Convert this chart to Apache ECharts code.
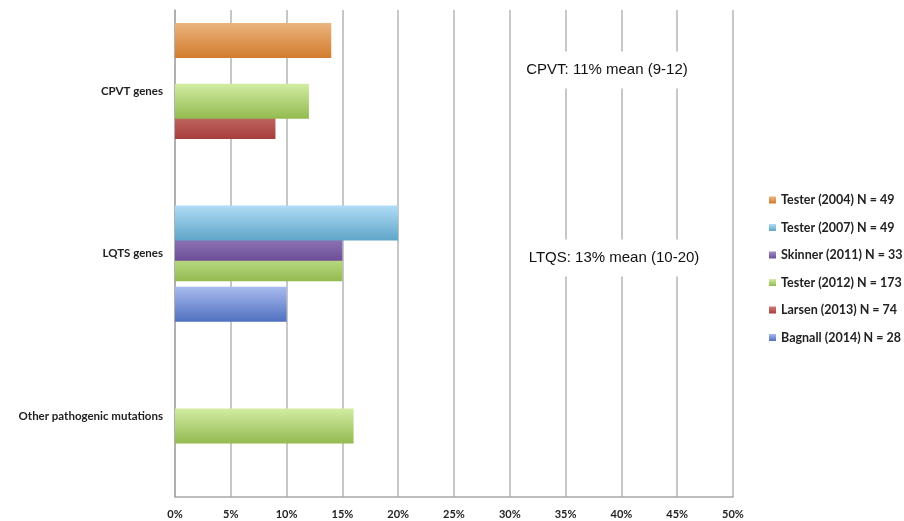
<!DOCTYPE html>
<html>
<head>
<meta charset="utf-8">
<script src="https://cdn.jsdelivr.net/npm/echarts@6/dist/echarts.min.js"></script>
<style>
  html, body { margin: 0; padding: 0; background: #fff; }
  #main { width: 904px; height: 521px; }
</style>
</head>
<body>
<div id="main"></div>
<script>
// categories, bottom to top (category axis runs upward)
var categories = ['Other pathogenic mutations', 'LQTS genes', 'CPVT genes'];
var xTicks = [0, 5, 10, 15, 20, 25, 30, 35, 40, 45, 50];

var seriesNames = [
  'Tester (2004) N = 49',
  'Tester (2007) N = 49',
  'Skinner (2011) N = 33',
  'Tester (2012) N = 173',
  'Larsen (2013) N = 74',
  'Bagnall (2014) N = 28'
];
// values in %, per category [Other, LQTS, CPVT]
var tester2004 = [null, null, 14];
var tester2007 = [null, 20, null];
var skinner2011 = [null, 15, null];
var tester2012 = [16, 15, 12];
var larsen2013 = [null, null, 9];
var bagnall2014 = [null, 10, null];
var seriesValues = [tester2004, tester2007, skinner2011, tester2012, larsen2013, bagnall2014];

var annotations = ['CPVT: 11% mean (9-12)', 'LTQS: 13% mean (10-20)'];

// [flat, top, bottom] colours
var palette = [
  ['#dc8d45', '#ebb47e', '#d27c2c'],
  ['#86c4e4', '#b0dcf6', '#5fa5c8'],
  ['#8a70b3', '#a08bc6', '#6c4e98'],
  ['#a8cd6a', '#d2eca2', '#93ba50'],
  ['#bd5c58', '#cf7d79', '#a63e3b'],
  ['#7b90d8', '#a9bbef', '#5070bf']
];

var myChart = echarts.init(document.getElementById('main'));

var series = seriesNames.map(function (name, i) {
  return {
    name: name,
    type: 'bar',
    data: seriesValues[i],
    barWidth: 35,
    barGap: '-42%',
    z: 10 - i, // upper bars drawn over the lower ones, as in the original
    itemStyle: {
      color: new echarts.graphic.LinearGradient(0, 0, 0, 1, [
        { offset: 0, color: palette[i][1] },
        { offset: 1, color: palette[i][2] }
      ])
    }
  };
});

var option = {
  backgroundColor: '#fff',
  animation: false,
  color: palette.map(function (p) { return p[0]; }),
  grid: { left: 175, right: 171, top: 10, bottom: 24 },
  legend: {
    orient: 'vertical',
    left: 764,
    top: 188,
    itemWidth: 7,
    itemHeight: 7,
    itemGap: 13.5,
    icon: 'rect',
    data: seriesNames,
    textStyle: { fontFamily: 'Lato', fontSize: 12.5, fontWeight: 'bold', color: '#222', lineHeight: 14 }
  },
  xAxis: {
    type: 'value',
    min: 0,
    max: 50,
    interval: 5,
    axisLine: { show: true, lineStyle: { color: '#a8a8a8', width: 1.5 } },
    axisTick: { show: false },
    splitLine: { show: true, lineStyle: { color: '#b4b4b4', width: 1.5 } },
    axisLabel: {
      margin: 12,
      fontFamily: 'Lato',
      fontSize: 11,
      fontWeight: 'bold',
      color: '#222',
      formatter: function (v) { return xTicks.indexOf(v) >= 0 ? v + '%' : ''; }
    }
  },
  yAxis: {
    type: 'category',
    data: categories,
    axisLine: { show: true, lineStyle: { color: '#a8a8a8', width: 1.5 } },
    axisTick: { show: false },
    axisLabel: { margin: 12, fontFamily: 'Lato', fontSize: 11.5, fontWeight: 'bold', color: '#222' }
  },
  graphic: [
    {
      type: 'text', x: 607, y: 70, z: 100,
      style: {
        text: annotations[0], fill: '#111', font: '15px "Liberation Sans", Arial',
        align: 'center', verticalAlign: 'middle',
        backgroundColor: '#fff', padding: [11, 14]
      }
    },
    {
      type: 'text', x: 614, y: 258, z: 100,
      style: {
        text: annotations[1], fill: '#111', font: '15px "Liberation Sans", Arial',
        align: 'center', verticalAlign: 'middle',
        backgroundColor: '#fff', padding: [11, 14]
      }
    }
  ],
  series: series
};

myChart.setOption(option);
</script>
</body>
</html>
